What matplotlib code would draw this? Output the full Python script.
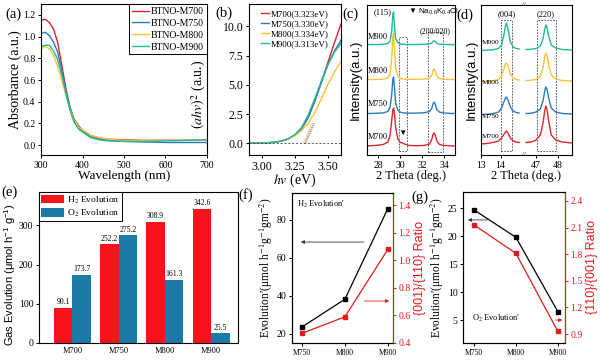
import matplotlib
matplotlib.use('Agg')
import matplotlib.pyplot as plt
from matplotlib.patches import Rectangle
from matplotlib.ticker import FormatStrFormatter

# ---------------- data ----------------
# (a) UV-vis absorbance
wavelength = [300, 310, 320, 330, 340, 350, 360, 370, 380, 390, 400, 420, 440, 460, 500, 550, 600, 650, 700]
abs_m700 = [1.15, 1.16, 1.13, 1.07, 0.95, 0.74, 0.52, 0.35, 0.24, 0.18, 0.14, 0.09, 0.065, 0.055, 0.05, 0.045, 0.045, 0.045, 0.045]
abs_m750 = [1.03, 1.04, 1.01, 0.95, 0.86, 0.69, 0.50, 0.34, 0.23, 0.17, 0.13, 0.075, 0.055, 0.045, 0.035, 0.03, 0.025, 0.025, 0.025]
abs_m800 = [0.89, 0.91, 0.89, 0.83, 0.73, 0.60, 0.46, 0.33, 0.23, 0.17, 0.14, 0.09, 0.07, 0.055, 0.045, 0.045, 0.045, 0.045, 0.045]
abs_m900 = [0.91, 0.92, 0.92, 0.87, 0.79, 0.65, 0.48, 0.32, 0.21, 0.15, 0.12, 0.07, 0.05, 0.04, 0.035, 0.035, 0.04, 0.045, 0.05]
uv_names = ['BTNO-M700', 'BTNO-M750', 'BTNO-M800', 'BTNO-M900']

# (b) Tauc plot
hv = [2.90, 3.00, 3.05, 3.10, 3.15, 3.20, 3.25, 3.30, 3.35, 3.40, 3.45, 3.50, 3.55, 3.60]
tauc_m700 = [0.0, 0.02, 0.05, 0.10, 0.20, 0.38, 0.70, 1.25, 2.2, 3.6, 5.2, 6.9, 8.6, 10.2]
tauc_m750 = [0.0, 0.02, 0.05, 0.10, 0.20, 0.38, 0.70, 1.25, 2.2, 3.6, 5.2, 6.7, 7.9, 8.8]
tauc_m800 = [0.0, 0.02, 0.05, 0.10, 0.20, 0.36, 0.65, 1.10, 1.7, 2.6, 3.8, 5.0, 6.1, 7.0]
tauc_m900 = [0.0, 0.02, 0.05, 0.10, 0.20, 0.40, 0.75, 1.35, 2.4, 3.8, 5.3, 6.7, 7.8, 8.5]
band_gaps = [3.323, 3.330, 3.334, 3.313]
short_names = ['M700', 'M750', 'M800', 'M900']

# (c) XRD 27-35 deg
c_theta = [27.0, 27.5, 28.0, 28.5, 28.9, 29.1, 29.25, 29.35, 29.42, 29.5, 29.6, 29.8, 30.0, 30.2,
           30.4, 30.8, 31.5, 32.2, 32.7, 32.9, 33.0, 33.1, 33.2, 33.35, 33.6, 34.0, 34.5, 35.0]
c_m700 = [1.0, 1.4, 1.8, 2.6, 5.0, 12, 27, 37, 39, 33, 20, 8.0, 4.5, 4.2, 3.0, 1.6, 1.2, 1.6, 3.0, 8.0, 12.5, 14, 12, 6.0, 2.5, 1.6, 1.2, 1.0]
c_m750 = [0.5, 0.6, 0.8, 1.2, 2.5, 7.0, 20, 35, 37, 26, 11, 4.0, 2.0, 1.3, 1.0, 0.8, 0.9, 1.2, 2.5, 6.0, 10, 12, 10, 4.5, 1.8, 1.0, 0.6, 0.5]
c_m800 = [0.4, 0.5, 0.6, 1.0, 2.0, 6.0, 22, 44, 47, 30, 12, 4.0, 2.0, 1.2, 0.9, 0.7, 0.8, 1.0, 2.0, 5.0, 9.0, 11, 9.0, 4.0, 1.5, 0.8, 0.5, 0.4]
c_m900 = [0.3, 0.5, 0.4, 0.8, 1.5, 4.0, 14, 31, 33, 18, 7.0, 2.5, 1.2, 0.8, 0.6, 0.4, 0.5, 0.7, 1.2, 2.2, 3.6, 4.2, 3.5, 1.8, 0.8, 0.5, 0.4, 0.3]
c_offsets = [8, 41, 75, 110]

# (d) XRD broken axis
d_theta_low = [13.0, 13.3, 13.6, 13.9, 14.05, 14.15, 14.25, 14.3, 14.38, 14.5, 14.65, 14.8, 14.95]
d_low_m700 = [1.0, 1.5, 2.5, 4.0, 7.0, 10, 13, 14, 12, 7.0, 4.0, 3.0, 2.5]
d_low_m750 = [0.5, 0.8, 1.3, 3.0, 7.0, 12, 17, 18, 15, 8.0, 4.0, 2.5, 2.0]
d_low_m800 = [0.5, 0.8, 1.2, 2.5, 6.0, 12, 18, 19, 16, 8.0, 4.0, 2.5, 2.0]
d_low_m900 = [0.5, 0.8, 1.2, 2.5, 6.0, 14, 25, 28, 22, 9.0, 4.0, 2.5, 2.0]
d_theta_high = [46.55, 46.8, 47.0, 47.2, 47.32, 47.4, 47.45, 47.5, 47.58, 47.7, 47.9, 48.2, 48.65]
d_high_m700 = [2.5, 3.0, 5.0, 10, 22, 34, 39, 36, 24, 10, 5.0, 3.0, 2.0]
d_high_m750 = [1.5, 1.8, 3.0, 6.0, 14, 24, 28, 26, 17, 7.0, 3.0, 1.5, 1.0]
d_high_m800 = [1.5, 1.8, 2.5, 6.0, 14, 25, 29, 27, 17, 7.0, 3.0, 1.5, 1.0]
d_high_m900 = [1.5, 1.8, 2.5, 5.0, 12, 22, 26, 24, 15, 6.0, 3.0, 1.5, 1.0]
d_offsets = [10, 40, 73, 104]

# (e) gas evolution
gas_cats = ['M700', 'M750', 'M800', 'M900']
h2_evolution = [90.1, 252.2, 308.9, 342.6]
o2_evolution = [173.7, 275.2, 161.3, 25.5]

# (f), (g)
fg_cats = ['M750', 'M800', 'M900']
h2_norm = [23.5, 38.1, 85.8]
ratio_001_110 = [0.47, 0.59, 1.08]
o2_norm = [24.7, 19.8, 6.5]
ratio_110_001 = [2.13, 1.81, 0.93]

# ---------------- style ----------------
SERIF = ['Liberation Serif', 'DejaVu Serif']
SANS = ['Liberation Sans', 'DejaVu Sans']
plt.rcParams['font.family'] = SERIF
plt.rcParams['mathtext.fontset'] = 'stix'
plt.rcParams['mathtext.rm'] = 'Liberation Sans'
plt.rcParams['mathtext.it'] = 'Liberation Sans:italic'
plt.rcParams['mathtext.bf'] = 'Liberation Sans:bold'
plt.rcParams['axes.linewidth'] = 0.8
for ax_ in ('xtick', 'ytick'):
    plt.rcParams[ax_ + '.major.width'] = 0.7
    plt.rcParams[ax_ + '.major.size'] = 2.5
    plt.rcParams[ax_ + '.major.pad'] = 1.5

RED = '#D8282C'
BLUE = '#2A7AB7'
YEL = '#F4C23A'
GRN = '#22B898'
COLS = [RED, BLUE, YEL, GRN]
RRED = '#E01A1A'

W, H = 600, 360
fig = plt.figure(figsize=(6, 3.6), dpi=100)


def R(l, t, r, b):
    return [l / W, 1 - b / H, (r - l) / W, (b - t) / H]


def ftext(x, y, s, **kw):
    return fig.text(x / W, 1 - y / H, s, **kw)


# ---------------- (a) ----------------
axa = fig.add_axes(R(41, 4, 207, 155))
for ys, c, n in zip([abs_m700, abs_m750, abs_m800, abs_m900], COLS, uv_names):
    axa.plot(wavelength, ys, color=c, lw=1.0, label=n)
axa.set_xlim(300, 700)
axa.set_ylim(-0.09, 1.3)
axa.set_xticks([300, 400, 500, 600, 700])
axa.set_yticks([0, 0.2, 0.4, 0.6, 0.8, 1.0, 1.2])
axa.yaxis.set_major_formatter(FormatStrFormatter('%.1f'))
axa.tick_params(labelsize=7)
axa.set_xlabel('Wavelength (nm)', fontsize=9.5, labelpad=0)
axa.set_ylabel('Absorbance (a.u.)', fontsize=10, labelpad=1)
leg = axa.legend(loc='upper right', fontsize=7, fancybox=False, edgecolor='black',
                 framealpha=1, borderaxespad=0.05, handlelength=1.8, labelspacing=0.3,
                 handletextpad=0.2, borderpad=0.25)
leg.get_frame().set_linewidth(0.7)

# ---------------- (b) ----------------
axb = fig.add_axes(R(249, 4, 341, 155))
for ys, c, n, eg in zip([tauc_m700, tauc_m750, tauc_m800, tauc_m900], COLS, short_names, band_gaps):
    axb.plot(hv, ys, color=c, lw=1.0, label='%s(%.3feV)' % (n, eg))
tangent_dx, tangent_dy = 0.065, 1.7
for eg, c in zip(band_gaps, ['#999999', '#E0A040', '#999999', '#E0A040']):
    axb.plot([eg, eg + tangent_dx], [0, tangent_dy], color=c, lw=0.6, ls=(0, (1.5, 1)))
axb.axhline(0, color='#555555', lw=0.7, ls=(0, (2, 2)))
axb.set_xlim(2.9, 3.6)
axb.set_ylim(-1.0, 11.9)
axb.set_xticks([3.0, 3.25, 3.5])
axb.xaxis.set_major_formatter(FormatStrFormatter('%.2f'))
axb.set_yticks([0, 2.5, 5, 7.5, 10])
axb.yaxis.set_major_formatter(FormatStrFormatter('%.1f'))
axb.tick_params(labelsize=8.5)
axb.set_xlabel(r'$hv$ (eV)', fontsize=10, labelpad=-1)
axb.set_ylabel(r'$(ahv)^2$ (a.u.)', fontsize=10, labelpad=1)
axb.yaxis.set_label_coords(-0.45, 0.40)
axb.legend(loc='upper left', bbox_to_anchor=(0.07, 1.0), fontsize=6.5, frameon=False,
           handlelength=0.9, handletextpad=0.1, labelspacing=0.2, borderpad=0.15)

# ---------------- (c) ----------------
axc = fig.add_axes(R(367, 5, 455, 155))
for ys, off, c in zip([c_m700, c_m750, c_m800, c_m900], c_offsets, COLS):
    axc.plot(c_theta, [v + off for v in ys], color=c, lw=1.0)
axc.set_xlim(27, 35)
axc.set_ylim(0, 150)
axc.set_xticks([28, 30, 32, 34])
axc.set_yticks([])
axc.tick_params(labelsize=7)
axc.set_ylabel('Intensity(a.u.)', fontsize=9.5, family=SANS, labelpad=4)
box_kw = dict(fill=False, ls=(0, (2, 1.5)), lw=0.6, ec='#444444')
axc.add_patch(Rectangle((29.88, 4), 0.8, 114, **box_kw))
axc.add_patch(Rectangle((32.55, 3), 1.33, 120, **box_kw))
axc.text(28.45, 143, '(115)', fontsize=6, ha='center', va='center')
axc.text(30.7, 143, r'▼ Na$_{0.6}$K$_{0.4}$Cl', fontsize=5.8, ha='left', va='center',
         family=SANS, math_fontfamily='custom')
axc.text(33.2, 124, '(200/020)', fontsize=5.8, ha='center', va='center')
axc.text(30.2, 22, '▼', fontsize=6, ha='center', va='center', family=SANS)
for n, yy in zip(short_names, [18, 51, 84, 118]):
    axc.text(27.1, yy, n, fontsize=6, ha='left', va='center')

# ---------------- (d) ----------------
axdl = fig.add_axes(R(481, 5, 524, 155))
axdr = fig.add_axes(R(524, 5, 572, 155))
for ys, off, c in zip([d_low_m700, d_low_m750, d_low_m800, d_low_m900], d_offsets, COLS):
    axdl.plot(d_theta_low, [v + off for v in ys], color=c, lw=1.0)
for ys, off, c in zip([d_high_m700, d_high_m750, d_high_m800, d_high_m900], d_offsets, COLS):
    axdr.plot(d_theta_high, [v + off for v in ys], color=c, lw=1.0)
axdl.set_xlim(13, 15.2)
axdr.set_xlim(46.45, 48.65)
for a_ in (axdl, axdr):
    a_.set_ylim(0, 150)
    a_.set_yticks([])
    a_.tick_params(labelsize=7)
axdl.set_xticks([13, 14])
axdr.set_xticks([47, 48])
axdl.spines['right'].set_visible(False)
axdr.spines['left'].set_visible(False)
axdl.set_ylabel('Intensity(a.u.)', fontsize=9.5, family=SANS, labelpad=2)
axdl.add_patch(Rectangle((14.0, 4), 0.6, 131, **box_kw))
axdr.add_patch(Rectangle((47.03, 4), 0.87, 131, **box_kw))
axdl.text(14.3, 141, '(004)', fontsize=6, ha='center', va='center')
axdr.text(47.45, 141, '(220)', fontsize=6, ha='center', va='center')
for n, yy in zip(short_names, [19, 38, 73, 112]):
    axdl.text(13.04, yy, n, fontsize=5.3, ha='left', va='center')
for yb in (5, 155):
    ftext(524, yb, '//', fontsize=5, ha='center', va='center')

ftext(411, 176, '2 Theta (deg.)', fontsize=9, ha='center', va='center')
ftext(526, 176, '2 Theta (deg.)', fontsize=9, ha='center', va='center')

# ---------------- (e) ----------------
axe = fig.add_axes(R(39, 192, 238, 343))
xs = list(range(len(gas_cats)))
b1 = axe.bar([x - 0.2 for x in xs], h2_evolution, width=0.4, color='#F5141A', label=r'H$_2$ Evolution')
b2 = axe.bar([x + 0.2 for x in xs], o2_evolution, width=0.4, color='#1A7BA8', label=r'O$_2$ Evolution')
axe.bar_label(b1, fmt='%.1f', fontsize=5.5, padding=1)
axe.bar_label(b2, fmt='%.1f', fontsize=5.5, padding=1)
axe.set_xlim(-0.72, 3.58)
axe.set_ylim(0, 385)
axe.set_xticks(xs)
axe.set_xticklabels(gas_cats, fontsize=6)
axe.tick_params(axis='x', length=0, pad=3)
axe.set_yticks([0, 100, 200, 300])
axe.tick_params(axis='y', labelsize=7)
axe.set_ylabel(r'Gas Evolution (μmol h$^{\mathregular{-1}}$ g$^{\mathregular{-1}}$)', fontsize=8,
               family=SANS, math_fontfamily='custom')
axe.yaxis.set_label_coords(-0.108, 0.45)
lege = axe.legend(loc='upper left', fontsize=6.8, fancybox=False, edgecolor='black', framealpha=1,
                  borderaxespad=0, handlelength=2.4, handleheight=1.0, labelspacing=0.25,
                  handletextpad=0.3, borderpad=0.25)
lege.get_frame().set_linewidth(0.7)


# ---------------- (f) & (g) ----------------
def dual(rect, left_vals, right_vals, ylim_l, ylim_r, yt_l, yt_r, fmt_r, rlabel, xlim):
    ax = fig.add_axes(rect)
    x = list(range(len(fg_cats)))
    ax.plot(x, left_vals, color='black', lw=0.9, marker='s', ms=2.5)
    ax2 = ax.twinx()
    ax2.plot(x, right_vals, color=RRED, lw=0.9, marker='s', ms=2.5)
    ax.set_xlim(*xlim)
    ax.set_ylim(*ylim_l)
    ax2.set_ylim(*ylim_r)
    ax.set_xticks(x)
    ax.set_xticklabels(fg_cats, fontsize=5.5)
    ax.set_yticks(yt_l)
    ax2.set_yticks(yt_r)
    ax2.yaxis.set_major_formatter(FormatStrFormatter(fmt_r))
    ax.tick_params(axis='y', labelsize=7)
    ax2.tick_params(axis='y', labelsize=7, colors=RRED)
    ax2.spines['right'].set_color(RRED)
    ax.set_ylabel(r'Evolution′(μmol h$^{-1}$g$^{-1}$gm$^{-2}$)', fontsize=8.3,
                  family=SERIF, labelpad=1)
    ax2.set_ylabel(rlabel, fontsize=9, family=SANS, color=RRED, labelpad=2)
    return ax, ax2


axf, axf2 = dual(R(292, 193, 393, 343), h2_norm, ratio_001_110, (15.1, 94), (0.4, 1.49),
                 [20, 40, 60, 80], [0.4, 0.6, 0.8, 1.0, 1.2, 1.4], '%.1f', '{001}/{110} Ratio', (-0.23, 2.12))
axf.text(0.05, 0.927, r'H$_2$ Evolution′', transform=axf.transAxes, fontsize=6, va='center')
axf.annotate('', xy=(0.06, 0.673), xytext=(0.74, 0.673), xycoords='axes fraction',
             arrowprops=dict(arrowstyle='-|>', color='#333333', lw=0.6, mutation_scale=5))
axf2.annotate('', xy=(0.99, 0.28), xytext=(0.69, 0.28), xycoords='axes fraction',
              arrowprops=dict(arrowstyle='-|>', color=RRED, lw=0.6, mutation_scale=5))

axg, axg2 = dual(R(463, 192, 565, 343), o2_norm, ratio_110_001, (0.9, 27.9), (0.8, 2.5),
                 [5, 10, 15, 20, 25], [0.9, 1.2, 1.5, 1.8, 2.1, 2.4], '%.1f', '{110}/{001} Ratio', (-0.26, 2.17))
axg.text(0.09, 0.166, r'O$_2$ Evolution′', transform=axg.transAxes, fontsize=6, va='center')
axg.annotate('', xy=(0.02, 0.815), xytext=(0.27, 0.815), xycoords='axes fraction',
             arrowprops=dict(arrowstyle='-|>', color='#333333', lw=0.6, mutation_scale=5))
axg2.annotate('', xy=(1.0, 0.152), xytext=(0.88, 0.152), xycoords='axes fraction',
              arrowprops=dict(arrowstyle='-|>', color=RRED, lw=0.6, mutation_scale=5))

# ---------------- panel labels ----------------
for s, x, y in [('(a)', 5, 14), ('(b)', 215, 13), ('(c)', 342, 14), ('(d)', 456, 15),
                ('(e)', 1, 192), ('(f)', 238, 195), ('(g)', 411, 197)]:
    ftext(x, y, s, fontsize=10.5, ha='left', va='center')

fig.savefig('out.png', dpi=100)
